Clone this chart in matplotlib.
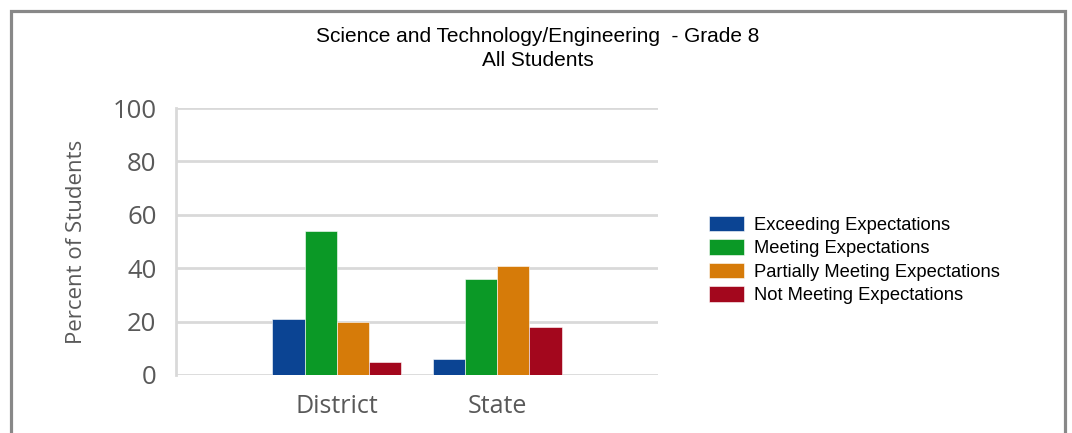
import matplotlib
matplotlib.use("Agg")
import matplotlib.pyplot as plt
import numpy as np
from matplotlib.patches import Rectangle

categories = ["District", "State"]
series_names = ["Exceeding Expectations", "Meeting Expectations",
                "Partially Meeting Expectations", "Not Meeting Expectations"]
exceeding = [21, 6]
meeting = [54, 36]
partially = [20, 41]
not_meeting = [5, 18]
yticks = [0, 20, 40, 60, 80, 100]
colors = ["#0b4493", "#0b9926", "#d67b09", "#a3071d"]

W, H = 1072, 433
fig = plt.figure(figsize=(W / 100, H / 100), dpi=100)
ax = fig.add_axes([176 / W, 1 - 375 / H, (658 - 176) / W, (375 - 108) / H])

values = [exceeding, meeting, partially, not_meeting]
x = np.arange(len(categories))
bw = 0.2
handles = []
for i, (vals, c) in enumerate(zip(values, colors)):
    h = ax.bar(x + (i - 1.5) * bw, vals, width=bw, color=c, edgecolor="white",
               linewidth=0.4, zorder=3, label=series_names[i])
    handles.append(h)

ax.set_xlim(-1, 2)
ax.set_ylim(0, 100)
ax.set_yticks(yticks)
ax.set_xticks(x)
ax.set_xticklabels(categories, fontsize=18, color="#595959", family="Open Sans")
ax.set_yticklabels([str(v) for v in yticks], fontsize=18.5, color="#595959", family="Open Sans")
ax.tick_params(length=0)
ax.tick_params(axis="y", pad=14)
ax.tick_params(axis="x", pad=14)
ax.yaxis.grid(True, color="#d9d9d9", linewidth=2, zorder=0)
for s in ["top", "right", "bottom"]:
    ax.spines[s].set_visible(False)
ax.spines["left"].set_color("#d9d9d9")
ax.spines["left"].set_linewidth(2)
ax.set_ylabel("Percent of Students", fontsize=16, color="#595959", family="Open Sans", labelpad=18)

fig.text(538 / W, 1 - 37 / H, "Science and Technology/Engineering  - Grade 8",
         ha="center", va="center", fontsize=15, family="Liberation Sans", color="black")
fig.text(538 / W, 1 - 61 / H, "All Students",
         ha="center", va="center", fontsize=15, family="Liberation Sans", color="black")

leg = fig.legend(handles=handles, labels=series_names, loc="upper left",
                 bbox_to_anchor=(709 / W, 1 - 216 / H), frameon=False,
                 prop={"family": "Liberation Sans", "size": 13.2},
                 handlelength=1.9, handleheight=0.9, handletextpad=0.55,
                 labelspacing=0.3, borderaxespad=0, borderpad=0)

fig.patches.append(Rectangle((11 / W, -0.1), (1065 - 11) / W, 1.1 - 11 / H,
                             transform=fig.transFigure, fill=False,
                             edgecolor="#888888", linewidth=2.3, zorder=10))

fig.savefig("out.png", dpi=100)
